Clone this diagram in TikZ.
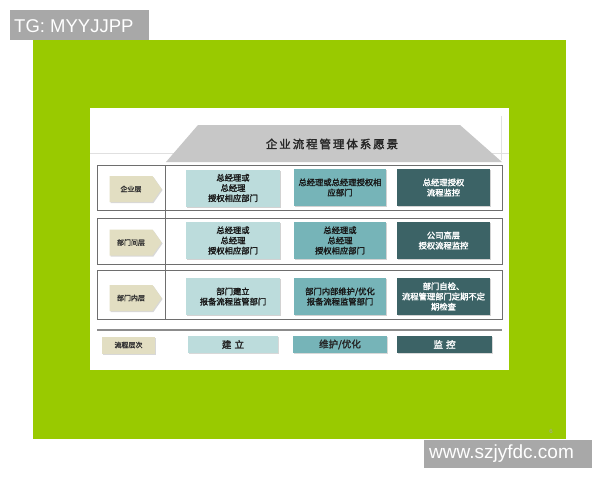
\documentclass[tikz,border=0pt]{standalone}
\usepackage{fontspec}
\setmainfont{Liberation Sans}
\newfontfamily\cjk{Noto Sans CJK SC}[FakeBold=2]
\usetikzlibrary{shapes.symbols,shadows}
\definecolor{bggreen}{HTML}{99CA00}
\definecolor{taggray}{HTML}{A8A8A8}
\definecolor{lighttl}{HTML}{BCDCDC}
\definecolor{midtl}{HTML}{76B4B8}
\definecolor{darktl}{HTML}{3C6366}
\definecolor{tan}{HTML}{E2DEC2}
\definecolor{framec}{HTML}{6E6E6E}
\tikzset{
  cell/.style={minimum width=#1, minimum height=37pt, inner sep=0pt, align=center,
    font=\cjk\fontsize{8.3}{10.2}\selectfont,
    drop shadow={opacity=0.35, shadow xshift=1pt, shadow yshift=-1pt}},
  c1/.style={cell=94pt, fill=lighttl, text=black!90},
  c2/.style={cell=92pt, fill=midtl, text=black!90},
  c3/.style={cell=93pt, fill=darktl, text=white},
  lvl/.style={signal, signal to=east, signal pointer angle=110, fill=tan,
    minimum width=52pt, minimum height=26pt, inner sep=0pt,
    font=\cjk\fontsize{7}{8}\selectfont, text=black!80,
    drop shadow={opacity=0.3, shadow xshift=1pt, shadow yshift=-1pt}},
  btm/.style={minimum height=17pt, inner sep=0pt, font=\cjk\fontsize{9.5}{10}\selectfont,
    drop shadow={opacity=0.3, shadow xshift=1pt, shadow yshift=-1pt}},
  rowframe/.style={draw=framec, line width=0.9pt},
  tagbox/.style={fill=taggray, text=white, inner sep=0pt, anchor=north west}
}
\begin{document}
\begin{tikzpicture}[x=1pt,y=-1pt]
\useasboundingbox (0,0) rectangle (600,480);
\fill[white] (0,0) rectangle (600,480);
% green background
\fill[bggreen] (33,40) rectangle (566,439);
% white panel
\fill[white] (90,108) rectangle (509,370);
\draw[black!12, line width=0.5pt] (501,116) -- (501,160);
\draw[black!12, line width=0.6pt] (90,153) -- (509,153);
% header trapezoid
\fill[black!22] (198,125) -- (460,125) -- (502,162) -- (166,162) -- cycle;
\node[font=\cjk\fontsize{11.5}{12}\selectfont, text=black!85] (title) at (332,144) {企\,业\,流\,程\,管\,理\,体\,系\,愿\,景};
% row frames
\draw[rowframe] (97,165) rectangle (502,210);
\draw[rowframe] (97,218) rectangle (502,264);
\draw[rowframe] (97,270) rectangle (502,319);
\draw[rowframe] (165,165) -- (165,319);
\draw[black!45, line width=1.2pt] (97,330) -- (502,330);
% row 1
\node[lvl] (l1) at (131,189) {企业层};
\node[c1] (r1a) at (233,188) {总经理或\\总经理\\授权相应部门};
\node[c2] (r1b) at (340,187.5) {总经理或总经理授权相\\应部门};
\node[c3] (r1c) at (443.5,187.5) {总经理授权\\流程监控};
% row 2
\node[lvl] (l2) at (131,242.5) {部门间层};
\node[c1] (r2a) at (233,240.5) {总经理或\\总经理\\授权相应部门};
\node[c2] (r2b) at (340,240.5) {总经理或\\总经理\\授权相应部门};
\node[c3] (r2c) at (443.5,240.5) {公司高层\\授权流程监控};
% row 3
\node[lvl] (l3) at (131,298) {部门内层};
\node[c1] (r3a) at (233,296.5) {部门建立\\报备流程监管部门};
\node[c2] (r3b) at (340,296.5) {部门内部维护/优化\\报备流程监管部门};
\node[c3] (r3c) at (443.5,296.5) {部门自检、\\流程管理部门定期不定\\期检查};
% bottom row
\node[btm, fill=tan, minimum width=53pt, font=\cjk\fontsize{7}{8}\selectfont, text=black!80] (l4) at (128.5,345) {流程层次};
\node[btm, fill=lighttl, minimum width=90pt, text=black!85] (b1) at (233,344.5) {建\,\,立};
\node[btm, fill=midtl, minimum width=94pt, text=black!85] (b2) at (340,344.5) {维护/优化};
\node[btm, fill=darktl, minimum width=95pt, text=white] (b3) at (444.5,344.5) {监\,\,控};
% page number
\node[font=\fontsize{6}{7}\selectfont, text=black!35] (pg) at (551,431) {6};
% tags
\node[tagbox, minimum width=139pt, minimum height=30pt] (tg) at (10,10) {};
\node[anchor=west, text=white, font=\fontsize{18.5}{20}\selectfont, inner sep=0pt] (tgt) at (14,26) {TG: MYYJJPP};
\node[tagbox, minimum width=168pt, minimum height=28pt] (ws) at (424,440) {};
\node[anchor=west, text=white, font=\fontsize{19}{20}\selectfont, inner sep=0pt] (wst) at (429,454) {www.szjyfdc.com};
\end{tikzpicture}
\end{document}
